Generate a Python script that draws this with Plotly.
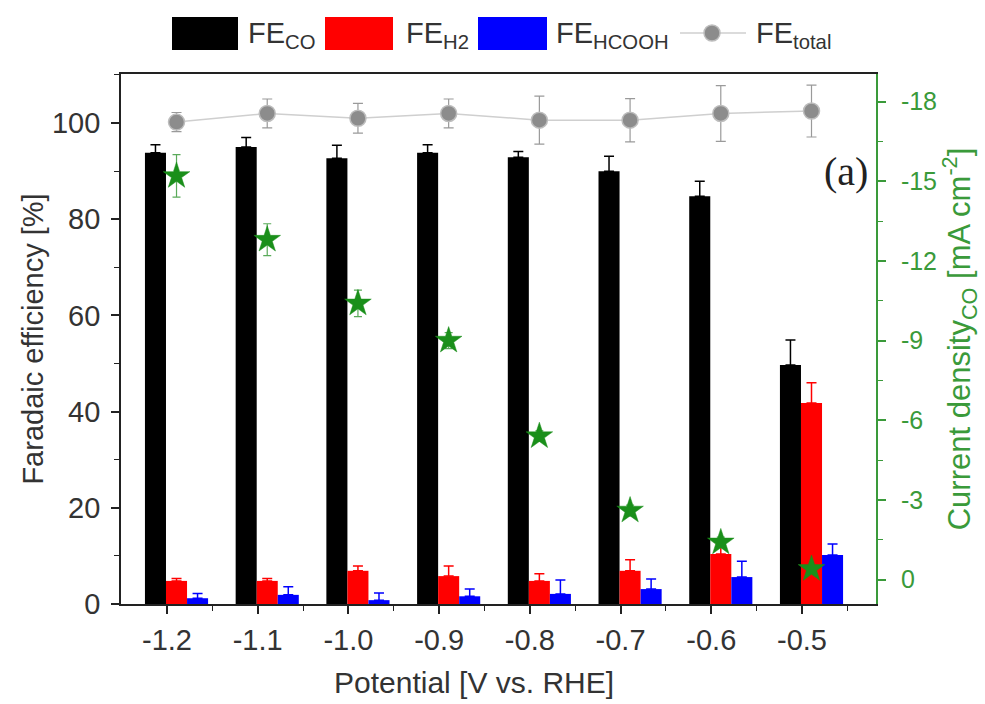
import plotly.graph_objects as go

# ---------------- data ----------------
potential = [-1.2, -1.1, -1.0, -0.9, -0.8, -0.7, -0.6, -0.5]
tick_text = ["-1.2", "-1.1", "-1.0", "-0.9", "-0.8", "-0.7", "-0.6", "-0.5"]

fe_co = [93.8, 95.0, 92.7, 93.8, 92.9, 90.0, 84.8, 49.7]
fe_co_err = [1.7, 2.0, 2.7, 1.7, 1.2, 3.1, 3.1, 5.2]

fe_h2 = [4.8, 4.8, 6.9, 5.8, 4.8, 6.9, 10.4, 41.8]
fe_h2_err = [0.5, 0.5, 1.0, 2.1, 1.5, 2.3, 2.0, 4.2]

fe_hcooh = [1.2, 1.9, 0.8, 1.6, 2.1, 3.1, 5.6, 10.2]
fe_hcooh_err = [1.0, 1.7, 1.5, 1.5, 2.9, 2.1, 3.3, 2.3]

fe_total = [100.2, 102.0, 101.0, 102.0, 100.6, 100.6, 102.0, 102.5]
fe_total_err = [2.0, 3.0, 3.1, 3.0, 5.0, 4.5, 5.8, 5.4]

j_co = [-15.2, -12.8, -10.4, -9.0, -5.4, -2.6, -1.4, -0.4]
j_co_err = [0.8, 0.6, 0.5, 0.3, 0.2, 0.2, 0.2, 0.1]

left_ticks = [0, 20, 40, 60, 80, 100]
right_ticks = [0, -3, -6, -9, -12, -15, -18]
right_tick_text = ["0", "-3", "-6", "-9", "-12", "-15", "-18"]

# ---------------- styling ----------------
BAR_W = 0.0232
TXT = "#333333"
GREEN = "#3a9a3a"
FONT = "Liberation Sans, Arial, sans-serif"

x_mid = [p + 0.0105 for p in potential]

fig = go.Figure()

def bar(y, err, color, offset, name):
    fig.add_trace(go.Bar(
        x=potential, y=y, width=BAR_W, offset=offset, name=name,
        marker=dict(color=color, line=dict(width=0)),
        error_y=dict(type="data", array=err, arrayminus=[0] * len(err),
                     symmetric=False, color=color, thickness=1.5, width=5),
        showlegend=False,
    ))

bar(fe_co, fe_co_err, "#000000", -0.0243, "FE_CO")
bar(fe_h2, fe_h2_err, "#ff0000", -0.0011, "FE_H2")
bar(fe_hcooh, fe_hcooh_err, "#0000ff", 0.0221, "FE_HCOOH")

fig.add_trace(go.Scatter(
    x=x_mid, y=fe_total, mode="lines+markers", name="FE_total",
    line=dict(color="#cfcfcf", width=1.5),
    marker=dict(symbol="circle", size=16, color="#8c8c8c",
                line=dict(color="#bdbdbd", width=1.5)),
    error_y=dict(type="data", array=fe_total_err, color="#9a9a9a",
                 thickness=1.2, width=5),
    showlegend=False,
))

fig.add_trace(go.Scatter(
    x=x_mid, y=j_co, mode="markers", name="j_CO", yaxis="y2",
    marker=dict(symbol="star", size=20, color="#1a8f1a",
                line=dict(color="#1a8f1a", width=0.5)),
    error_y=dict(type="data", array=j_co_err, color="#5aaa5a",
                 thickness=1.2, width=4),
    showlegend=False,
))

# ---------------- layout ----------------
L, R, T, B = 121, 109, 74, 100
W, H = 985, 704
pw, ph = W - L - R, H - T - B

def px_x(x):
    return (x - L) / pw

def px_y(y):
    return (H - B - y) / ph

shapes = []
annotations = []

legend_items = [
    ("#000000", 172, 238, "FE<sub>CO</sub>", 246),
    ("#ff0000", 325, 393, "FE<sub>H2</sub>", 404),
    ("#0000ff", 478, 547, "FE<sub>HCOOH</sub>", 554),
]
for color, x0, x1, label, tx in legend_items:
    shapes.append(dict(type="rect", xref="paper", yref="paper",
                       x0=px_x(x0), x1=px_x(x1), y0=px_y(50), y1=px_y(17),
                       fillcolor=color, line=dict(width=0)))
    annotations.append(dict(xref="paper", yref="paper", x=px_x(tx), y=px_y(35),
                            xanchor="left", yanchor="middle", showarrow=False,
                            text=label, font=dict(size=29, color=TXT, family=FONT)))

shapes.append(dict(type="line", xref="paper", yref="paper",
                   x0=px_x(680), x1=px_x(746), y0=px_y(33), y1=px_y(33),
                   line=dict(color="#cfcfcf", width=1.5)))
shapes.append(dict(type="circle", xref="paper", yref="paper",
                   x0=px_x(704), x1=px_x(720), y0=px_y(41), y1=px_y(25),
                   fillcolor="#8c8c8c", line=dict(color="#bdbdbd", width=1.5)))
annotations.append(dict(xref="paper", yref="paper", x=px_x(754), y=px_y(35),
                        xanchor="left", yanchor="middle", showarrow=False,
                        text="FE<sub>total</sub>", font=dict(size=29, color=TXT, family=FONT)))

annotations.append(dict(xref="paper", yref="paper", x=px_x(870), y=px_y(172),
                        xanchor="right", yanchor="middle", showarrow=False,
                        text="(a)", font=dict(size=40, color="#222222",
                                              family="Liberation Serif, Times New Roman, serif")))

annotations.append(dict(xref="paper", yref="paper", x=px_x(474), y=px_y(682),
                        xanchor="center", yanchor="middle", showarrow=False,
                        text="Potential [V vs. RHE]",
                        font=dict(size=30, color=TXT, family=FONT)))

fig.update_layout(
    width=W, height=H,
    margin=dict(l=L, r=R, t=T, b=B, pad=0),
    paper_bgcolor="white", plot_bgcolor="white",
    barmode="overlay",
    font=dict(family=FONT, color=TXT, size=24),
    shapes=shapes, annotations=annotations,
    xaxis=dict(
        range=[-1.2507, -0.4184],
        tickvals=potential, ticktext=tick_text,
        ticks="outside", ticklen=8, tickwidth=1.5, tickcolor="#222",
        ticklabelstandoff=1,
        minor=dict(tickvals=[p + 0.05 for p in potential], ticks="outside",
                   ticklen=5, tickwidth=1.2, tickcolor="#222"),
        showline=True, linecolor="#222", linewidth=1.8, mirror=True,
        showgrid=False, zeroline=False,
        tickfont=dict(size=29, color=TXT),
    ),
    yaxis=dict(
        range=[0, 110.2],
        tickvals=left_ticks,
        ticks="outside", ticklen=8, tickwidth=1.5, tickcolor="#222",
        ticklabelstandoff=5,
        minor=dict(tickvals=[10, 30, 50, 70, 90, 110], ticks="outside",
                   ticklen=5, tickwidth=1.2, tickcolor="#222"),
        showline=True, linecolor="#222", linewidth=1.8, mirror=True,
        showgrid=False, zeroline=False,
        tickfont=dict(size=29, color=TXT),
        title=dict(text="Faradaic efficiency [%]", font=dict(size=29, color=TXT), standoff=0),
    ),
    yaxis2=dict(
        overlaying="y", side="right", anchor="x",
        range=[0.92, -19.04],
        tickvals=right_ticks, ticktext=right_tick_text,
        ticks="outside", ticklen=8, tickwidth=1.5, tickcolor=GREEN,
        ticklabelstandoff=10,
        minor=dict(tickvals=[-1.5, -4.5, -7.5, -10.5, -13.5, -16.5], ticks="outside",
                   ticklen=5, tickwidth=1.2, tickcolor=GREEN),
        showline=True, linecolor=GREEN, linewidth=1.8,
        showgrid=False, zeroline=False,
        tickfont=dict(size=25, color=GREEN),
        title=dict(text="Current density<sub>CO</sub> [mA cm<sup>-2</sup>]",
                   font=dict(size=31, color=GREEN), standoff=12),
    ),
)

fig.write_html("out.html", config={"displayModeBar": False},
               post_script="document.body.style.margin='0';")
